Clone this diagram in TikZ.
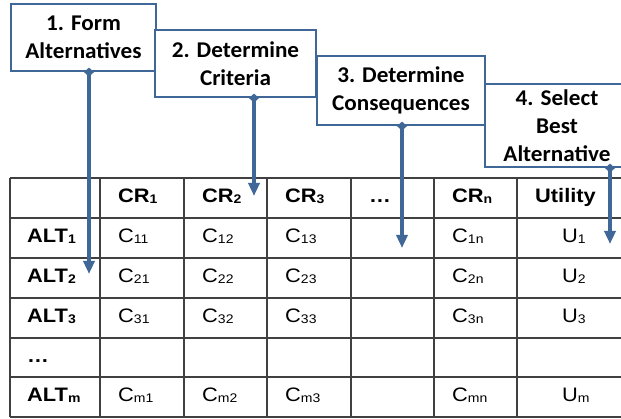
\documentclass[tikz,border=0pt]{standalone}
\usepackage{fontspec}
\newfontfamily\boxfont[FakeStretch=1.03]{Carlito}
\newfontfamily\tabfont[FakeStretch=1.12]{Liberation Sans}
\usetikzlibrary{arrows.meta}
\definecolor{steel}{HTML}{3F6797}
\definecolor{gridc}{HTML}{404040}
\newcommand\sbs[1]{\raisebox{-1pt}{\fontsize{12.5}{13}\selectfont #1}}
\begin{document}
\begin{tikzpicture}[x=1pt,y=-1pt,
 stepbox/.style={draw=steel, line width=2.2pt, fill=white, inner sep=0pt, align=center,
   font=\boxfont\bfseries\fontsize{22.5}{28}\selectfont},
 conn/.style={draw=steel, line width=3.5pt,
   {Diamond[width=10pt,length=9pt]}-{Triangle[width=11pt,length=13pt]}, shorten <=-4.5pt},
 hd/.style={anchor=base west, inner sep=0pt, font=\tabfont\bfseries\fontsize{19.5}{19.5}\selectfont},
 dt/.style={anchor=base west, inner sep=0pt, font=\tabfont\fontsize{19.5}{19.5}\selectfont},
 gridline/.style={draw=gridc, line width=1.3pt}]
\clip (0,0) rectangle (621,419);
\fill[white] (0,0) rectangle (621,419);
% table grid
\foreach \y in {178,218,258,298,338,377,417}
  \draw[gridline] (10,\y) -- (630,\y);
\foreach \x in {10,100,184,267,351,434,517}
  \draw[gridline] (\x,178) -- (\x,417);
% header row
\node[hd] (h1) at (118,202.5) {CR\sbs{1}};
\node[hd] (h2) at (202,202.5) {CR\sbs{2}};
\node[hd] (h3) at (285,202.5) {CR\sbs{3}};
\node[hd] (h4) at (369,202.5) {…};
\node[hd] (h5) at (452,202.5) {CR\sbs{n}};
\node[hd] (h6) at (535,202.5) {Utility};
% rows
\node[hd] (a1) at (27,242.5) {ALT\sbs{1}};
\node[hd] (a2) at (27,282.5) {ALT\sbs{2}};
\node[hd] (a3) at (27,322.5) {ALT\sbs{3}};
\node[hd] (a4) at (27,362.5) {…};
\node[hd] (a5) at (27,401.5) {ALT\sbs{m}};
\node[dt] (c11) at (118,242.5) {C\sbs{11}};
\node[dt] (c12) at (202,242.5) {C\sbs{12}};
\node[dt] (c13) at (285,242.5) {C\sbs{13}};
\node[dt] (c1n) at (452,242.5) {C\sbs{1n}};
\node[dt] (u1) at (562,242.5) {U\sbs{1}};
\node[dt] (c21) at (118,282.5) {C\sbs{21}};
\node[dt] (c22) at (202,282.5) {C\sbs{22}};
\node[dt] (c23) at (285,282.5) {C\sbs{23}};
\node[dt] (c2n) at (452,282.5) {C\sbs{2n}};
\node[dt] (u2) at (562,282.5) {U\sbs{2}};
\node[dt] (c31) at (118,322.5) {C\sbs{31}};
\node[dt] (c32) at (202,322.5) {C\sbs{32}};
\node[dt] (c33) at (285,322.5) {C\sbs{33}};
\node[dt] (c3n) at (452,322.5) {C\sbs{3n}};
\node[dt] (u3) at (562,322.5) {U\sbs{3}};
\node[dt] (cm1) at (118,401.5) {C\sbs{m1}};
\node[dt] (cm2) at (202,401.5) {C\sbs{m2}};
\node[dt] (cm3) at (285,401.5) {C\sbs{m3}};
\node[dt] (cmn) at (452,401.5) {C\sbs{mn}};
\node[dt] (um) at (562,401.5) {U\sbs{m}};
% step boxes
\node[stepbox, minimum width=145pt, minimum height=67pt] (b1) at (83.5,37.5) {1. Form\\Alternatives};
\node[stepbox, minimum width=161pt, minimum height=67pt] (b2) at (235.5,63.5) {2. Determine\\Criteria};
\node[stepbox, minimum width=168pt, minimum height=69pt] (b3) at (401,90.5) {3. Determine\\Consequences};
\node[stepbox, minimum width=144pt, minimum height=83pt] (b4) at (557,125.5) {4. Select\\Best\\Alternative};
% connectors
\coordinate (e1) at (89,274);
\coordinate (e2) at (254,196);
\coordinate (e3) at (402,248);
\coordinate (e4) at (610,244);
\draw[conn] (b1.south -| e1) -- (e1);
\draw[conn] (b2.south -| e2) -- (e2);
\draw[conn] (b3.south -| e3) -- (e3);
\draw[conn] (b4.south -| e4) -- (e4);
\end{tikzpicture}
\end{document}
